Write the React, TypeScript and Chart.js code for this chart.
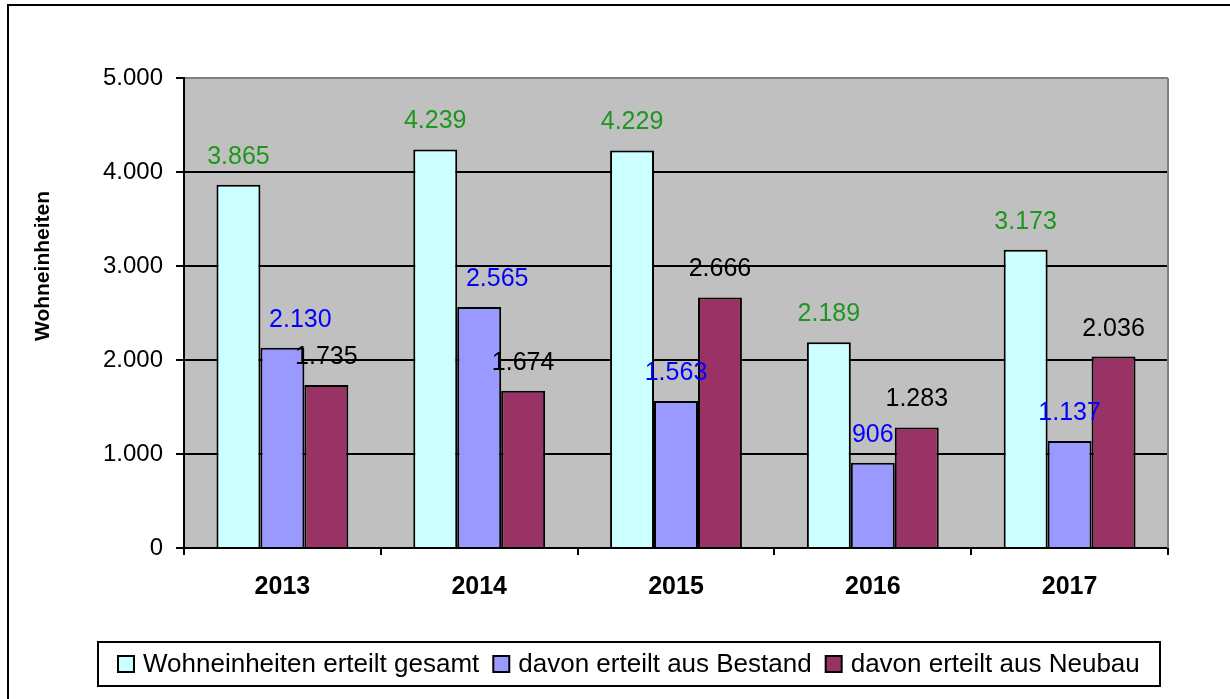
import React, { useEffect, useRef } from 'react';
import { Chart, registerables } from 'chart.js';

Chart.register(...registerables);

// ---- data ----
const categories = ['2013', '2014', '2015', '2016', '2017'];
const gesamt = [3865, 4239, 4229, 2189, 3173];
const bestand = [2130, 2565, 1563, 906, 1137];
const neubau = [1735, 1674, 2666, 1283, 2036];
const seriesNames = [
  'Wohneinheiten erteilt gesamt',
  'davon erteilt aus Bestand',
  'davon erteilt aus Neubau',
];
const yTicks = [0, 1000, 2000, 3000, 4000, 5000];
const yTitle = 'Wohneinheiten';

// ---- styles ----
const FONT = '"Liberation Sans", Arial, Helvetica, sans-serif';
const barColors = ['#CCFFFF', '#9999FF', '#993366'];
const labelColors = ['#1E961E', '#0000FF', '#000000'];
const labelNudgeX: Record<number, number[]> = { 1: [18, 18, 0, 0, 0] };

const fmt = (n: number) => String(n).replace(/\B(?=(\d{3})+(?!\d))/g, '.');

const framePlugin = {
  id: 'frame',
  beforeDraw(chart: any) {
    const { ctx, chartArea: a, width, height } = chart;
    ctx.save();
    ctx.fillStyle = '#ffffff';
    ctx.fillRect(0, 0, width, height);
    ctx.fillStyle = '#C0C0C0';
    ctx.fillRect(a.left, a.top, a.right - a.left, a.bottom - a.top);
    ctx.strokeStyle = '#000';
    ctx.lineWidth = 2;
    ctx.beginPath();
    ctx.moveTo(8, height + 5);
    ctx.lineTo(8, 5);
    ctx.lineTo(width + 5, 5);
    ctx.stroke();
    ctx.restore();
  },
  afterDatasetsDraw(chart: any) {
    const { ctx } = chart;
    ctx.save();
    ctx.font = `25px ${FONT}`;
    ctx.textAlign = 'center';
    ctx.textBaseline = 'middle';
    chart.data.datasets.forEach((ds: any, i: number) => {
      const meta = chart.getDatasetMeta(i);
      ctx.fillStyle = labelColors[i];
      meta.data.forEach((el: any, j: number) => {
        const nudge = (labelNudgeX[i] && labelNudgeX[i][j]) || 0;
        ctx.fillText(fmt(ds.data[j]), el.x + nudge, el.y - 28);
      });
    });
    ctx.restore();
  },
  afterDraw(chart: any) {
    const { ctx, chartArea: a } = chart;
    ctx.save();
    // right plot border
    ctx.strokeStyle = '#808080';
    ctx.lineWidth = 2;
    ctx.beginPath();
    ctx.moveTo(a.right, a.top);
    ctx.lineTo(a.right, a.bottom);
    ctx.stroke();

    // y-axis title
    ctx.fillStyle = '#000';
    ctx.font = `bold 21px ${FONT}`;
    ctx.textAlign = 'center';
    ctx.textBaseline = 'middle';
    ctx.translate(43, 266);
    ctx.rotate(-Math.PI / 2);
    ctx.fillText(yTitle, 0, 0);
    ctx.restore();

    // legend
    ctx.save();
    const boxL = 98, boxR = 1160, boxT = 642, boxB = 686;
    ctx.fillStyle = '#fff';
    ctx.fillRect(boxL, boxT, boxR - boxL, boxB - boxT);
    ctx.strokeStyle = '#000';
    ctx.lineWidth = 2;
    ctx.strokeRect(boxL, boxT, boxR - boxL, boxB - boxT);
    ctx.font = `26px ${FONT}`;
    ctx.textBaseline = 'middle';
    ctx.textAlign = 'left';
    const marker = 16, gapText = 25, gapItem = 14;
    const widths = seriesNames.map((s) => ctx.measureText(s).width);
    const total = widths.reduce((acc, w) => acc + gapText + w, 0) + gapItem * (seriesNames.length - 1);
    let x = Math.round((boxL + boxR) / 2 - total / 2);
    const cy = (boxT + boxB) / 2;
    seriesNames.forEach((s, i) => {
      ctx.fillStyle = barColors[i];
      ctx.fillRect(x, cy - marker / 2, marker, marker);
      ctx.strokeStyle = '#000';
      ctx.lineWidth = 2;
      ctx.strokeRect(x, cy - marker / 2, marker, marker);
      ctx.fillStyle = '#000';
      ctx.fillText(s, x + gapText, cy + 1);
      x += gapText + widths[i] + gapItem;
    });
    ctx.restore();
  },
};

export default function App() {
  const ref = useRef<HTMLCanvasElement>(null);

  useEffect(() => {
    const datasetsValues = [gesamt, bestand, neubau];
    const chart = new Chart(ref.current as HTMLCanvasElement, {
      type: 'bar',
      data: {
        labels: categories,
        datasets: datasetsValues.map((vals, i) => ({
          label: seriesNames[i],
          data: vals,
          backgroundColor: barColors[i],
          borderColor: '#000',
          borderWidth: 2,
          categoryPercentage: 0.67,
          barPercentage: 1,
        })),
      },
      options: {
        responsive: false,
        animation: false,
        devicePixelRatio: 1,
        layout: { padding: { left: 0, top: 78, right: 62, bottom: 91 } },
        plugins: {
          legend: { display: false },
          tooltip: { enabled: false },
          title: { display: false },
        },
        scales: {
          x: {
            grid: {
              display: true,
              drawOnChartArea: false,
              drawTicks: true,
              tickLength: 7,
              color: '#000',
              lineWidth: 2,
              offset: true,
            },
            border: { display: true, color: '#000', width: 2 },
            ticks: {
              font: { family: FONT, size: 25, weight: 'bold' },
              color: '#000',
              padding: 17,
              maxRotation: 0,
            },
            afterFit: (s: any) => {
              s.height = 60;
            },
          },
          y: {
            min: yTicks[0],
            max: yTicks[yTicks.length - 1],
            ticks: {
              stepSize: yTicks[1] - yTicks[0],
              callback: (v: any) => fmt(Number(v)),
              font: { family: FONT, size: 24 },
              color: '#000',
              padding: 13,
            },
            grid: {
              color: (c: any) =>
                c.tick && c.tick.value === yTicks[yTicks.length - 1] ? '#808080' : '#000',
              tickColor: '#000',
              lineWidth: 2,
              tickLength: 8,
              drawTicks: true,
            },
            border: { display: true, color: '#000', width: 2 },
            afterFit: (s: any) => {
              s.width = 184;
            },
          },
        },
      } as any,
      plugins: [framePlugin],
    });
    return () => chart.destroy();
  }, []);

  return (
    <div
      style={{
        position: 'fixed',
        left: 0,
        top: 0,
        width: 1230,
        height: 699,
        background: '#fff',
      }}
    >
      <canvas
        ref={ref}
        width={1230}
        height={699}
        style={{ display: 'block', width: 1230, height: 699 }}
      />
    </div>
  );
}
